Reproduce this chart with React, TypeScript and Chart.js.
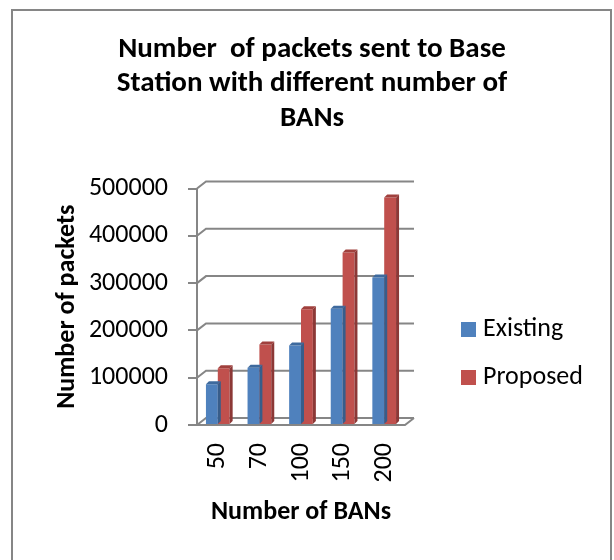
import React, { useEffect, useRef } from "react";
import { Chart, registerables } from "chart.js";

Chart.register(...registerables);

const categories = ["50", "70", "100", "150", "200"];
const existingValues = [86000, 121000, 168000, 246000, 312000];
const proposedValues = [120000, 170000, 245000, 365000, 481000];
const seriesNames = ["Existing", "Proposed"];
const yTicks = [0, 100000, 200000, 300000, 400000, 500000];
const titleLines = ["Number  of packets sent to Base", "Station with different number of", "BANs"];
const yTitle = "Number of packets";
const xTitle = "Number of BANs";

const FONT = "Carlito, Calibri, Lato, 'Liberation Sans', sans-serif";
const GRID = "#868686";
const BLUE = "#4F81BD";
const RED = "#C0504D";
const BLUE_SIDE = "#385d8a";
const RED_SIDE = "#8c3836";
const BLUE_TOP = "#3e6a9e";
const RED_TOP = "#a0403d";

const DX = 9;
const DY = 7;

const framePlugin = {
  id: "frame",
  beforeDraw(chart: any) {
    const ctx = chart.ctx;
    ctx.save();
    ctx.fillStyle = "#ffffff";
    ctx.fillRect(0, 0, chart.width, chart.height);
    ctx.strokeStyle = GRID;
    ctx.lineWidth = 2;
    ctx.strokeRect(12, 10, 599, 600);
    ctx.restore();
  },
};

const wallPlugin = {
  id: "wall",
  beforeDatasetsDraw(chart: any) {
    const ctx = chart.ctx;
    const y = chart.scales.y;
    const { left, right, bottom } = chart.chartArea;
    ctx.save();
    ctx.strokeStyle = GRID;
    ctx.lineWidth = 2;
    ctx.beginPath();
    y.ticks.forEach((t: any) => {
      const py = y.getPixelForValue(t.value);
      ctx.moveTo(left, py);
      ctx.lineTo(left + DX, py - DY);
      ctx.lineTo(right + DX, py - DY);
    });
    // floor front edge
    ctx.moveTo(left, bottom);
    ctx.lineTo(right, bottom);
    ctx.lineTo(right + DX, bottom - DY);
    ctx.stroke();
    ctx.restore();
  },
};

const depthPlugin = {
  id: "depth",
  afterDatasetsDraw(chart: any) {
    const ctx = chart.ctx;
    const d = 3;
    ctx.save();
    chart.data.datasets.forEach((ds: any, i: number) => {
      const meta = chart.getDatasetMeta(i);
      const side = i === 0 ? BLUE_SIDE : RED_SIDE;
      const topc = i === 0 ? BLUE_TOP : RED_TOP;
      meta.data.forEach((bar: any) => {
        const { x, y, base, width } = bar.getProps(["x", "y", "base", "width"], true);
        const l = x - width / 2;
        const r = x + width / 2;
        ctx.fillStyle = side;
        ctx.beginPath();
        ctx.moveTo(r, y);
        ctx.lineTo(r + d, y - d);
        ctx.lineTo(r + d, base - d);
        ctx.lineTo(r, base);
        ctx.closePath();
        ctx.fill();
        ctx.fillStyle = topc;
        ctx.beginPath();
        ctx.moveTo(l, y);
        ctx.lineTo(l + d, y - d);
        ctx.lineTo(r + d, y - d);
        ctx.lineTo(r, y);
        ctx.closePath();
        ctx.fill();
      });
    });
    ctx.restore();
  },
};

const legendPlugin = {
  id: "customLegend",
  afterDraw(chart: any) {
    const ctx = chart.ctx;
    ctx.save();
    ctx.font = `26px ${FONT}`;
    ctx.textBaseline = "middle";
    ctx.textAlign = "left";
    chart.data.datasets.forEach((ds: any, i: number) => {
      const cy = 329.5 + i * 48;
      ctx.fillStyle = ds.backgroundColor;
      ctx.fillRect(461, cy - 7.5, 15, 15);
      ctx.fillStyle = "#000000";
      ctx.fillText(ds.label, 483, cy);
    });
    ctx.restore();
  },
};

export default function App() {
  const ref = useRef<HTMLCanvasElement | null>(null);
  useEffect(() => {
    if (!ref.current) return;
    const chart = new Chart(ref.current, {
      type: "bar",
      data: {
        labels: categories,
        datasets: [
          { label: seriesNames[0], data: existingValues, backgroundColor: BLUE },
          { label: seriesNames[1], data: proposedValues, backgroundColor: RED },
        ],
      },
      options: {
        animation: false,
        responsive: false,
        devicePixelRatio: 1,
        layout: { padding: { left: 10, right: 0, top: 32, bottom: 28 } },
        datasets: { bar: { categoryPercentage: 0.57, barPercentage: 1 } },
        plugins: {
          legend: { display: false },
          tooltip: { enabled: false },
          title: {
            display: true,
            text: titleLines,
            color: "#000000",
            font: { family: FONT, size: 29, weight: "bold", lineHeight: 1.19 },
            padding: { top: 0, bottom: 53 },
          },
        },
        scales: {
          x: {
            grid: { display: false, drawTicks: false },
            border: { display: false },
            ticks: {
              color: "#000000",
              font: { family: FONT, size: 26 },
              minRotation: 90,
              maxRotation: 90,
              padding: 18,
            },
            title: {
              display: true,
              text: xTitle,
              color: "#000000",
              font: { family: FONT, size: 26, weight: "bold", lineHeight: 1.2 },
              padding: { top: 4, bottom: 4 },
            },
            afterFit: (s: any) => {
              s.height = 107;
            },
          },
          y: {
            min: 0,
            max: 500000,
            afterBuildTicks: (s: any) => {
              s.ticks = yTicks.map((v) => ({ value: v }));
            },
            grid: { drawOnChartArea: false, drawTicks: true, tickLength: 9, color: GRID, lineWidth: 2 },
            border: { display: true, color: GRID, width: 2 },
            ticks: {
              color: "#000000",
              font: { family: FONT, size: 26 },
              padding: 20,
              callback: (v: any) => String(v),
            },
            title: {
              display: true,
              text: yTitle,
              color: "#000000",
              font: { family: FONT, size: 26, weight: "bold", lineHeight: 1.2 },
              padding: { top: 42, bottom: 4 },
            },
            afterFit: (s: any) => {
              s.width = 187;
            },
          },
          yR: {
            type: "linear",
            position: "right",
            display: true,
            grid: { display: false, drawTicks: false },
            border: { display: false },
            ticks: { display: false },
            afterFit: (s: any) => {
              s.width = 209;
            },
          },
        },
      },
      plugins: [framePlugin, wallPlugin, depthPlugin, legendPlugin],
    });
    return () => chart.destroy();
  }, []);
  return (
    <div style={{ position: "fixed", left: 0, top: 0, width: 614, height: 560, background: "#fff" }}>
      <canvas ref={ref} width={614} height={560} style={{ display: "block" }} />
    </div>
  );
}
